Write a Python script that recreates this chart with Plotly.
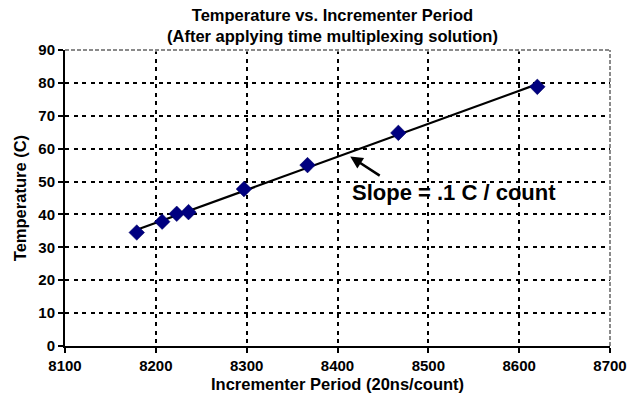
import numpy as np
import plotly.graph_objects as go

# Data
period = [8179, 8207, 8223, 8236, 8297, 8367, 8467, 8620]
temperature = [34.5, 37.8, 40.2, 40.7, 47.7, 55.0, 64.8, 78.8]

x_ticks = [8100, 8200, 8300, 8400, 8500, 8600, 8700]
y_ticks = [0, 10, 20, 30, 40, 50, 60, 70, 80, 90]

title_text = "<b>Temperature vs. Incrementer Period<br>(After applying time multiplexing solution)</b>"
x_title = "<b>Incrementer Period (20ns/count)</b>"
y_title = "<b>Temperature (C)</b>"
slope_text = "<b>Slope = .1 C / count</b>"

# Linear trendline (least squares fit of the data)
coef = np.polyfit(period, temperature, 1)
trend_x = [min(period), max(period)]
trend_y = list(np.polyval(coef, trend_x))

FONT = "Liberation Sans, Arial, sans-serif"

fig = go.Figure()
fig.add_trace(go.Scatter(
    x=trend_x, y=trend_y, mode="lines",
    line=dict(color="black", width=2.2), hoverinfo="skip", showlegend=False))
fig.add_trace(go.Scatter(
    x=period, y=temperature, mode="markers",
    marker=dict(symbol="diamond", size=12, color="#000080",
                line=dict(color="#000060", width=0.5)),
    showlegend=False))

fig.update_layout(
    width=639, height=394,
    margin=dict(l=65, r=27, t=50, b=48),
    paper_bgcolor="white", plot_bgcolor="white",
    font=dict(family=FONT, color="black", size=15),
    showlegend=False,
)

fig.update_xaxes(
    range=[8100, 8700], tickvals=x_ticks, ticktext=[f"<b>{v}</b>" for v in x_ticks],
    showline=True, linecolor="black", linewidth=2,
    ticks="outside", ticklen=5, tickwidth=1.5, tickcolor="black",
    showgrid=True, gridcolor="black", gridwidth=2, griddash="4px,4.5px",
    zeroline=False, tickfont=dict(size=15),
)
fig.update_yaxes(
    range=[0, 90], tickvals=y_ticks, ticktext=[f"<b>{v}</b>" for v in y_ticks],
    showline=True, linecolor="black", linewidth=2,
    ticks="outside", ticklen=5, tickwidth=1.5, tickcolor="black",
    showgrid=True, gridcolor="black", gridwidth=2, griddash="4px,4.5px",
    zeroline=False, tickfont=dict(size=15),
)

# Gray dashed top and right plot-area border
fig.add_shape(type="line", xref="paper", yref="paper", x0=0, x1=1, y0=1, y1=1,
              line=dict(color="white", width=3))
fig.add_shape(type="line", xref="paper", yref="paper", x0=0, x1=1, y0=1, y1=1,
              line=dict(color="#8a8a8a", width=2, dash="4px,2px"))
fig.add_shape(type="line", xref="paper", yref="paper", x0=1, x1=1, y0=0, y1=1,
              line=dict(color="#8a8a8a", width=2, dash="4px,2px"))

# Chart title (two lines)
fig.add_annotation(text=title_text, xref="paper", yref="paper",
                   x=0.491, y=1 + (50 - 25.5) / 296, xanchor="center", yanchor="middle",
                   showarrow=False, font=dict(size=16.5, family=FONT, color="black"))

# Axis titles
fig.add_annotation(text=x_title, xref="paper", yref="paper",
                   x=(338.5 - 65) / 547, y=-(384 - 346) / 296, xanchor="center", yanchor="middle",
                   showarrow=False, font=dict(size=16.5, family=FONT, color="black"))
fig.add_annotation(text=y_title, xref="paper", yref="paper",
                   x=(20 - 65) / 547, y=0.5, xanchor="center", yanchor="middle",
                   showarrow=False, textangle=-90,
                   font=dict(size=16.5, family=FONT, color="black"))

# Slope annotation text
fig.add_annotation(text=slope_text, x=8528, y=46.8, xref="x", yref="y",
                   showarrow=False, font=dict(size=22, family=FONT, color="black"))
# Arrow pointing to the trendline
fig.add_annotation(text="", x=8414, y=57.6, xref="x", yref="y",
                   ax=31, ay=20, showarrow=True, arrowhead=2, arrowsize=1,
                   arrowwidth=2.5, arrowcolor="black")

fig.write_html("out.html", config={"displayModeBar": False},
               post_script="document.body.style.margin='0';document.body.style.overflow='hidden';")
